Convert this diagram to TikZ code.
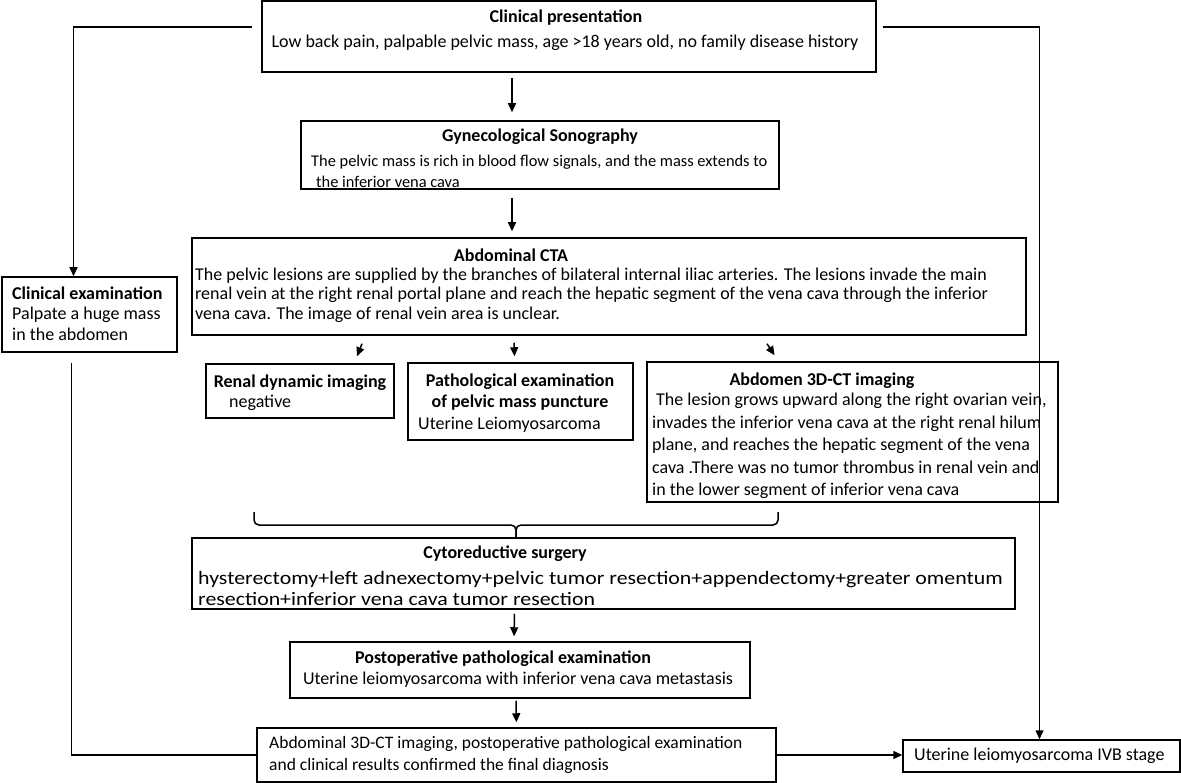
\documentclass[tikz,border=0pt]{standalone}
\usepackage{fontspec}
\setmainfont{Carlito}
\usetikzlibrary{arrows.meta,fit}

\tikzset{
  box/.style={draw, line width=1.5pt, inner sep=0pt},
  txt/.style={inner sep=0pt, align=left, font=\fontsize{18}{21}\selectfont},
  ttl/.style={inner sep=0pt, align=center, font=\fontsize{18}{21}\selectfont\bfseries},
  arr/.style={line width=1.5pt, -{Triangle[length=9pt,width=8pt]}},
  link/.style={line width=1.5pt},
}

\begin{document}
\begin{tikzpicture}[x=1pt,y=-1pt]
\useasboundingbox (0,0) rectangle (1181,783);

% boxes
\node[box, fit={(262,1) (876,72)}] (cp) {};
\node[box, fit={(301,121) (779,189)}] (sono) {};
\node[box, fit={(192,238) (1026,335)}] (cta) {};
\node[box, fit={(2,277) (177,352)}] (exam) {};
\node[box, fit={(206,364) (394,418)}] (renal) {};
\node[box, fit={(408,363) (633,440)}] (patho) {};
\node[box, fit={(647,362) (1058,502)}] (ct3d) {};
\node[box, fit={(192,538) (1015,609)}] (cyto) {};
\node[box, fit={(290,642) (750,698)}] (post) {};
\node[box, fit={(257,728) (776,782)}] (final) {};
\node[box, fit={(903,740) (1180,772)}] (ivb) {};

% texts
\node[ttl] (cp-t) at (566,18) {Clinical presentation};
\node[txt] (cp-b) at (565,43) {Low back pain, palpable pelvic mass, age >18 years old, no family disease history};

\node[ttl] (sono-t) at (540,137) {Gynecological Sonography};
\node[txt, anchor=west, font=\fontsize{16.4}{21}\selectfont] (sono-b) at (311,171.5) {The pelvic mass is rich in blood flow signals, and the mass extends to\\\hspace*{5pt}the inferior vena cava};

\node[ttl] (cta-t) at (511,255) {Abdominal CTA};
\node[txt, anchor=west, font=\fontsize{18}{19.5}\selectfont] (cta-b) at (195,295) {The pelvic lesions are supplied by the branches of bilateral internal iliac arteries. The lesions invade the main\\renal vein at the right renal portal plane and reach the hepatic segment of the vena cava through the inferior\\vena cava. The image of renal vein area is unclear.};

\node[txt, anchor=west, font=\fontsize{18}{20.5}\selectfont] (exam-b) at (12,313.5) {\textbf{Clinical examination}\\Palpate a huge mass\\in the abdomen};

\node[ttl] (renal-t) at (300,383) {Renal dynamic imaging};
\node[txt, anchor=west] (renal-b) at (229,403) {negative};

\node[ttl] (patho-t) at (520,392.5) {Pathological examination\\of pelvic mass puncture};
\node[txt, anchor=west] (patho-b) at (418,425) {Uterine Leiomyosarcoma};

\node[ttl] (ct3d-t) at (822,381) {Abdomen 3D-CT imaging};
\node[txt, anchor=west, font=\fontsize{18}{22.5}\selectfont] (ct3d-b) at (652,446) {\hspace*{4pt}The lesion grows upward along the right ovarian vein,\\invades the inferior vena cava at the right renal hilum\\plane, and reaches the hepatic segment of the vena\\cava .There was no tumor thrombus in renal vein and\\in the lower segment of inferior vena cava};

\node[ttl] (cyto-t) at (505,554) {Cytoreductive surgery};
\node[txt, anchor=west, font=\fontsize{19}{21}\selectfont] (cyto-b) at (198,588.5) {\scalebox{1.15}[1]{hysterectomy+left adnexectomy+pelvic tumor resection+appendectomy+greater omentum}\\\scalebox{1.15}[1]{resection+inferior vena cava tumor resection}};

\node[ttl] (post-t) at (503,659) {Postoperative pathological examination};
\node[txt] (post-b) at (518,680) {Uterine leiomyosarcoma with inferior vena cava metastasis};

\node[txt, anchor=west, font=\fontsize{17.5}{22}\selectfont] (final-b) at (269,755) {Abdominal 3D-CT imaging, postoperative pathological examination\\and clinical results confirmed the final diagnosis};

\node[txt, anchor=west] (ivb-b) at (914,756) {Uterine leiomyosarcoma IVB stage};

% connectors
\draw[arr, shorten <=5pt, shorten >=8pt] ([xshift=-57pt]cp.south) -- ([xshift=-28pt]sono.north);
\draw[arr, shorten <=8pt, shorten >=6pt] ([xshift=-28pt]sono.south) -- ([xshift=-97pt]cta.north);
\draw[arr] ([xshift=-247pt,yshift=-8pt]cta.south) -- ([xshift=57pt,yshift=7pt]renal.north);
\draw[arr] ([xshift=-95pt,yshift=-7pt]cta.south) -- ([xshift=-6pt,yshift=6pt]patho.north);
\draw[arr] ([xshift=158pt,yshift=-8pt]cta.south) -- ([xshift=-78pt,yshift=6pt]ct3d.north);

\draw[arr] ([xshift=-9pt,yshift=-27pt]cp.north west) -| ([xshift=-16pt]exam.north);
\draw[arr] ([xshift=6pt,yshift=-27pt]cp.north east) -| ([xshift=-2pt]ivb.north);

\draw[link] ([xshift=-18pt,yshift=-10pt]exam.south) |- (final.west);

% brace under the three results
\coordinate (brL) at (254,512);
\coordinate (brR) at (778,512);
\coordinate (brM) at (516,525);
\coordinate (brT) at (516,537);
\draw[link, rounded corners=5pt] (brL) |- (brM) -- (brT);
\draw[link, rounded corners=5pt] (brR) |- (brM) -- (brT);

\draw[arr, shorten <=4pt, shorten >=5pt] ([xshift=-89pt]cyto.south) -- ([xshift=-6pt]post.north);
\draw[arr, shorten <=2pt, shorten >=5pt] ([xshift=-4pt]post.south) -- (final.north);
\draw[arr] (final.east) -- (final.east -| ivb.west);

\end{tikzpicture}
\end{document}
